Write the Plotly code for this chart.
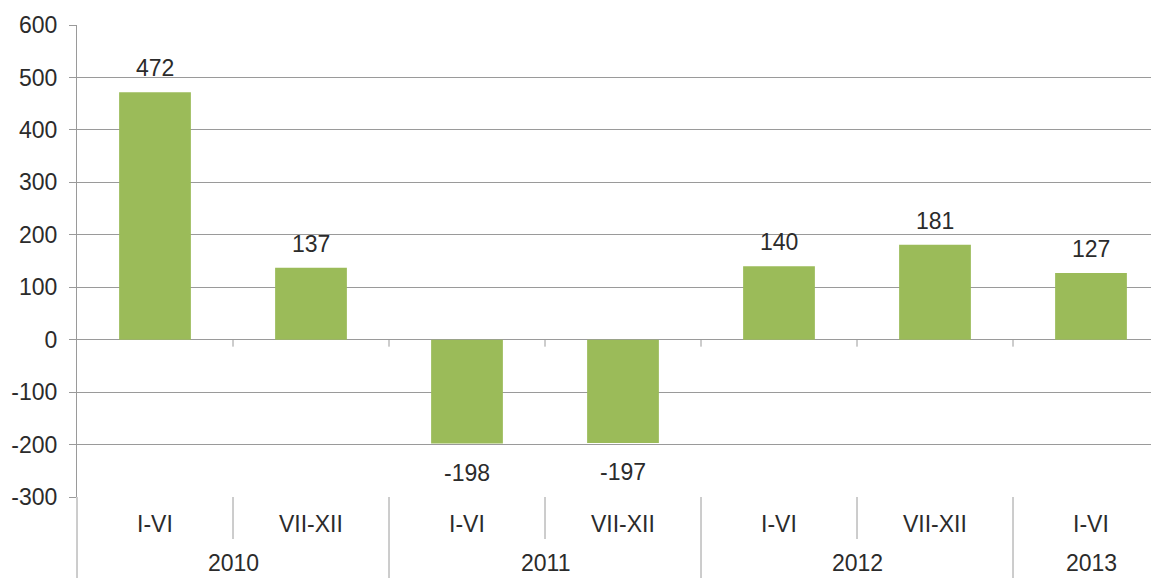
import plotly.graph_objects as go

periods = ["I-VI", "VII-XII", "I-VI", "VII-XII", "I-VI", "VII-XII", "I-VI"]
years = ["2010", "2011", "2012", "2013"]
year_spans = [2, 2, 2, 1]
values = [472, 137, -198, -197, 140, 181, 127]
y_ticks = [-300, -200, -100, 0, 100, 200, 300, 400, 500, 600]

FONT = "Liberation Sans, Arial, sans-serif"
TXT = "#2b2b2b"
GRID = "#9a9a9a"
GREEN = "#9BBB59"
FS = 23

x = list(range(len(values)))
fig = go.Figure(go.Bar(x=x, y=values, width=0.46, marker=dict(color=GREEN, line=dict(width=0))))

# page body has an 8px margin; figure sized to fit the 1159x578 window
OFF = 8
W, H = 1159 - OFF, 578 - OFF
ml, mr, mt = 77 - OFF, 0, 25 - OFF
mb = H - (497 - OFF)
ph = H - mt - mb
cat_w = 156.0
xmax = -0.5 + (W - ml - mr) / cat_w

fig.update_layout(
    width=W, height=H,
    margin=dict(l=ml, r=mr, t=mt, b=mb, autoexpand=False),
    plot_bgcolor="white", paper_bgcolor="white",
    showlegend=False,
    font=dict(family=FONT, size=FS, color=TXT),
    xaxis=dict(range=[-0.5, xmax], showticklabels=False, showgrid=False,
               zeroline=False, showline=False, ticks="", automargin=False),
    yaxis=dict(range=[-300, 600], tickvals=y_ticks, ticktext=[str(v) for v in y_ticks],
               showgrid=True, gridcolor=GRID, gridwidth=1, zeroline=True, zerolinecolor=GRID,
               zerolinewidth=1, showline=True, linecolor=GRID, linewidth=1,
               ticks="outside", ticklen=7, tickcolor=GRID, automargin=False,
               ticklabelstandoff=7, tickfont=dict(family=FONT, size=FS, color=TXT)),
)

shapes = []
annotations = []
for xi, v in zip(x, values):
    annotations.append(dict(x=xi, y=v, xref="x", yref="y", text=str(v), showarrow=False,
                            yshift=24 if v >= 0 else -29, xanchor="center", yanchor="middle",
                            font=dict(family=FONT, size=FS, color=TXT)))

for k in range(len(values) - 1):
    shapes.append(dict(type="line", xref="x", yref="y", x0=k + 0.5, x1=k + 0.5,
                       ysizemode="pixel", yanchor=0, y0=0, y1=-7,
                       line=dict(color=GRID, width=1)))

def pix_to_paper(p):
    # p in window pixels
    return (H - mb - (p - OFF)) / ph

bottom = pix_to_paper(578)
sub_bot = pix_to_paper(539)

shapes.append(dict(type="line", xref="paper", yref="paper", x0=0, x1=0, y0=0, y1=bottom,
                   line=dict(color=GRID, width=1)))

pos = 0
year_bounds = []
for span in year_spans:
    pos += span
    year_bounds.append(pos)
for k in range(1, len(values)):
    is_year = k in year_bounds
    shapes.append(dict(type="line", xref="x", yref="paper", x0=k - 0.5, x1=k - 0.5,
                       y0=0, y1=bottom if is_year else sub_bot,
                       line=dict(color=GRID, width=1)))

for xi, p in zip(x, periods):
    annotations.append(dict(x=xi, y=pix_to_paper(524), xref="x", yref="paper", text=p,
                            xanchor="center", yanchor="middle",
                            showarrow=False, font=dict(family=FONT, size=FS, color=TXT)))
start = 0
for yr, span in zip(years, year_spans):
    center = start + (span - 1) / 2
    annotations.append(dict(x=center, y=pix_to_paper(563), xref="x", yref="paper", text=yr,
                            xanchor="center", yanchor="middle",
                            showarrow=False, font=dict(family=FONT, size=FS, color=TXT)))
    start += span

fig.update_layout(shapes=shapes, annotations=annotations)
fig.write_html("out.html")
